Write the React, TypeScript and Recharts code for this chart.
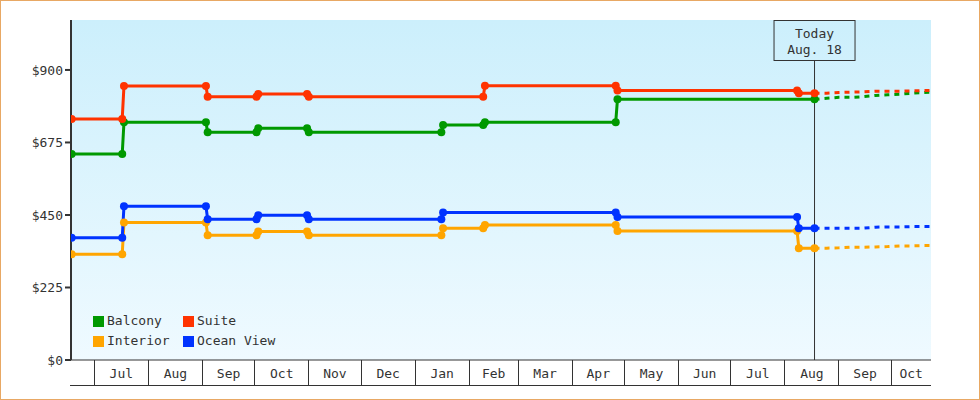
import { LineChart, Line, XAxis, YAxis, CartesianGrid, ReferenceLine, Legend } from 'recharts'

type Point = [string, number]

const FONT = '"DejaVu Sans Mono", monospace'

const MONTH_STARTS = [
  '2013-07-01', '2013-08-01', '2013-09-01', '2013-10-01', '2013-11-01', '2013-12-01',
  '2014-01-01', '2014-02-01', '2014-03-01', '2014-04-01', '2014-05-01', '2014-06-01',
  '2014-07-01', '2014-08-01', '2014-09-01', '2014-10-01',
]
const MONTH_LABELS = [
  'Jul', 'Aug', 'Sep', 'Oct', 'Nov', 'Dec', 'Jan', 'Feb', 'Mar', 'Apr', 'May', 'Jun',
  'Jul', 'Aug', 'Sep', 'Oct',
]
const PRICE_TICKS = [0, 225, 450, 675, 900]

const balcony: Point[] = [
  ['2013-06-18', 639], ['2013-07-17', 639], ['2013-07-18', 738], ['2013-09-03', 738],
  ['2013-09-04', 707], ['2013-10-02', 707], ['2013-10-03', 719], ['2013-10-31', 719],
  ['2013-11-01', 707], ['2014-01-16', 707], ['2014-01-17', 729], ['2014-02-09', 729],
  ['2014-02-10', 738], ['2014-04-26', 738], ['2014-04-27', 809], ['2014-08-18', 809],
]
const suite: Point[] = [
  ['2013-06-18', 748], ['2013-07-17', 748], ['2013-07-18', 850], ['2013-09-03', 850],
  ['2013-09-04', 817], ['2013-10-02', 817], ['2013-10-03', 825], ['2013-10-31', 825],
  ['2013-11-01', 817], ['2014-02-09', 817], ['2014-02-10', 851], ['2014-04-26', 851],
  ['2014-04-27', 836], ['2014-08-08', 836], ['2014-08-09', 828], ['2014-08-18', 828],
]
const interior: Point[] = [
  ['2013-06-18', 328], ['2013-07-17', 328], ['2013-07-18', 427], ['2013-09-03', 427],
  ['2013-09-04', 387], ['2013-10-02', 387], ['2013-10-03', 399], ['2013-10-31', 399],
  ['2013-11-01', 387], ['2014-01-16', 387], ['2014-01-17', 409], ['2014-02-09', 409],
  ['2014-02-10', 419], ['2014-04-26', 419], ['2014-04-27', 400], ['2014-08-08', 400],
  ['2014-08-09', 347], ['2014-08-18', 347],
]
const oceanView: Point[] = [
  ['2013-06-18', 379], ['2013-07-17', 379], ['2013-07-18', 477], ['2013-09-03', 477],
  ['2013-09-04', 437], ['2013-10-02', 437], ['2013-10-03', 449], ['2013-10-31', 449],
  ['2013-11-01', 437], ['2014-01-16', 437], ['2014-01-17', 458], ['2014-04-26', 458],
  ['2014-04-27', 444], ['2014-08-08', 444], ['2014-08-09', 409], ['2014-08-18', 409],
]

// forecast after today (dashed)
const FORECAST_DATES = [
  '2014-08-18', '2014-08-25', '2014-09-01', '2014-09-08', '2014-09-15', '2014-09-22',
  '2014-09-29', '2014-10-06', '2014-10-13', '2014-10-20', '2014-10-24',
]
const balconyForecast = [809, 812, 815, 815, 817, 821, 823, 825, 828, 830, 831]
const suiteForecast = [828, 828, 830, 831, 832, 834, 834, 834, 835, 836, 836]
const interiorForecast = [347, 347, 348, 350, 350, 351, 352, 354, 354, 355, 355]
const oceanViewForecast = [409, 409, 409, 409, 409, 412, 413, 413, 414, 414, 414]

const TODAY = '2014-08-18'
const TODAY_LABEL = ['Today', 'Aug. 18']

const ts = (d: string) => Date.parse(d + 'T00:00:00Z')
const X_DOMAIN = [Date.parse('2013-06-17T15:00:00Z'), Date.parse('2014-10-23T19:00:00Z')]
const PLOT_LEFT = 71
const PLOT_WIDTH = 860
const PX_PER_MS = PLOT_WIDTH / (X_DOMAIN[1] - X_DOMAIN[0])
const MONTH_TS = MONTH_STARTS.map(ts)

const rows = (pts: Point[]) => pts.map(([d, v]) => ({ t: ts(d), v }))
const forecastRows = (vals: number[]) => FORECAST_DATES.map((d, i) => ({ t: ts(d), v: vals[i] }))

const SERIES = [
  { name: 'Balcony', color: '#009900', actual: balcony, forecast: balconyForecast },
  { name: 'Suite', color: '#ff3300', actual: suite, forecast: suiteForecast },
  { name: 'Interior', color: '#ffa500', actual: interior, forecast: interiorForecast },
  { name: 'Ocean View', color: '#0033ff', actual: oceanView, forecast: oceanViewForecast },
]

function MonthTick(props: any) {
  const { x, y, payload } = props
  const i = MONTH_TS.indexOf(payload.value)
  const next = i + 1 < MONTH_TS.length ? MONTH_TS[i + 1] : X_DOMAIN[1]
  const w = (Math.min(next, X_DOMAIN[1]) - payload.value) * PX_PER_MS
  return (
    <g>
      <line x1={x} y1={y} x2={x} y2={y + 25} stroke="#333" shapeRendering="crispEdges" />
      <line x1={i === 0 ? PLOT_LEFT - 1 : x} y1={y + 25} x2={x + w} y2={y + 25} stroke="#333" shapeRendering="crispEdges" />
      <text x={x + w / 2} y={y + 13} textAnchor="middle" dominantBaseline="central"
        fill="#333" fontSize={13} fontFamily={FONT}>
        {MONTH_LABELS[i]}
      </text>
    </g>
  )
}

function TodayLabel(props: any) {
  const { x, y } = props.viewBox
  return (
    <g>
      <rect x={x - 40.5} y={y + 0.5} width={81} height={40} fill="url(#plotBg)" stroke="#333" />
      <text x={x} y={y + 13} textAnchor="middle" dominantBaseline="central" fill="#333" fontSize={13} fontFamily={FONT}>
        {TODAY_LABEL[0]}
      </text>
      <text x={x} y={y + 29} textAnchor="middle" dominantBaseline="central" fill="#333" fontSize={13} fontFamily={FONT}>
        {TODAY_LABEL[1]}
      </text>
    </g>
  )
}

function LegendBox() {
  return (
    <div style={{ display: 'grid', gridTemplateColumns: '90px auto', fontFamily: FONT, fontSize: 13, color: '#333', lineHeight: '20px' }}>
      {SERIES.map((s) => (
        <div key={s.name} style={{ display: 'flex', alignItems: 'center' }}>
          <span style={{ display: 'inline-block', width: 11, height: 11, background: s.color, marginRight: 3 }} />
          {s.name}
        </div>
      ))}
    </div>
  )
}

export default function App() {
  return (
    <div style={{ position: 'absolute', left: 0, top: 0, width: 980, height: 400, background: '#fff', boxShadow: 'inset 0 0 0 1px #e8a864' }}>
      <LineChart width={980} height={400} margin={{ top: 20, right: 49, left: 11, bottom: 10 }}>
        <defs>
          <linearGradient id="plotBg" gradientUnits="userSpaceOnUse" x1="0" y1="20" x2="0" y2="360">
            <stop offset="0" stopColor="#ccEFFC" />
            <stop offset="1" stopColor="#EFFAFF" />
          </linearGradient>
        </defs>
        <CartesianGrid horizontal={false} vertical={false} fill="url(#plotBg)" stroke="none" />
        <XAxis
          type="number"
          dataKey="t"
          domain={X_DOMAIN}
          allowDataOverflow
          ticks={MONTH_TS}
          interval={0}
          tick={(p: any) => <MonthTick {...p} />}
          tickLine={false}
          tickSize={0}
          tickMargin={0}
          height={30}
          axisLine={{ stroke: '#333' }}
        />
        <YAxis
          domain={[0, 1055]}
          ticks={PRICE_TICKS}
          interval={0}
          tickFormatter={(v) => '$' + v}
          width={60}
          tickSize={6}
          axisLine={{ stroke: '#333', strokeWidth: 2 }}
          tickLine={{ stroke: '#333', strokeWidth: 2 }}
          tick={{ fill: '#333', fontSize: 13, fontFamily: FONT }}
        />
        <ReferenceLine x={ts(TODAY)} stroke="#333" strokeWidth={1} label={<TodayLabel />} />
        <Legend
          content={() => <LegendBox />}
          layout="horizontal"
          verticalAlign="middle"
          align="center"
          wrapperStyle={{ left: 93, top: 311, width: 260 }}
        />
        {SERIES.map((s) => (
          <Line
            key={s.name + '-f'}
            data={forecastRows(s.forecast)}
            dataKey="v"
            type="linear"
            stroke={s.color}
            strokeWidth={3}
            strokeDasharray="5 5"
            dot={false}
            activeDot={false}
            legendType="none"
            isAnimationActive={false}
          />
        ))}
        {[SERIES[0], SERIES[1], SERIES[2], SERIES[3]].map((s) => (
          <Line
            key={s.name}
            name={s.name}
            data={rows(s.actual)}
            dataKey="v"
            type="linear"
            stroke={s.color}
            strokeWidth={3}
            dot={{ r: 4, fill: s.color, stroke: 'none' }}
            activeDot={false}
            isAnimationActive={false}
          />
        ))}
      </LineChart>
    </div>
  )
}
